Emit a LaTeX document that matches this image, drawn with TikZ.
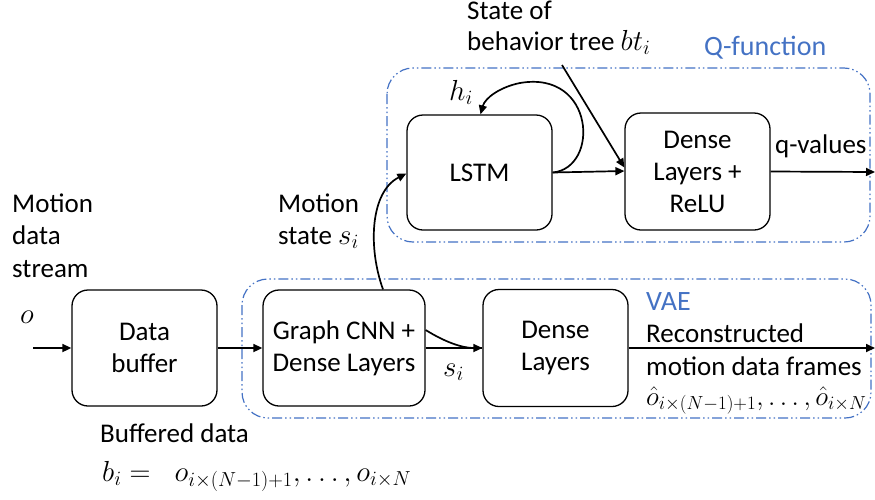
\RequirePackage{fix-cm}
\documentclass[tikz,border=0pt]{standalone}
\usepackage{fontspec}
\setmainfont{Carlito}
\usetikzlibrary{arrows.meta}
\definecolor{groupblue}{RGB}{68,114,196}
\tikzset{
  blk/.style={draw, line width=1.3pt, rounded corners=16pt, align=center, font=\fontsize{27}{32}\selectfont},
  grp/.style={draw=groupblue, line width=1.2pt, rounded corners=26pt,
    dash pattern=on 10pt off 3pt on 1.5pt off 3pt on 1.5pt off 3pt},
  flow/.style={line width=1.7pt, -{Triangle[length=9pt,width=8pt]}},
  lbl/.style={font=\fontsize{27}{33}\selectfont, align=left, inner sep=0pt},
  mth/.style={font=\fontsize{29}{33}\selectfont, inner sep=0pt},
  grplbl/.style={font=\fontsize{28}{30}\selectfont, text=groupblue, inner sep=0pt}
}
\begin{document}
\begin{tikzpicture}[x=1pt, y=-1pt]
\useasboundingbox (0,0) rectangle (875,499);

% group frames
\draw[grp] (387,68) rectangle (870,242);
\draw[grp] (242,279) rectangle (871,418);
\node[grplbl, anchor=base west] (qlab) at (704,55) {Q-function};
\node[grplbl, anchor=base west] (vlab) at (646,310) {VAE};

% blocks
\node[blk, minimum width=145pt, minimum height=116pt] (buf) at (144.5,348) {Data\\buffer};
\node[blk, minimum width=162pt, minimum height=116pt] (gcn) at (344,348) {Graph CNN +\\Dense Layers};
\node[blk, minimum width=145pt, minimum height=117pt] (dec) at (555.5,348) {Dense\\Layers};
\node[blk, minimum width=145pt, minimum height=115pt] (lstm) at (479.5,172.5) {LSTM};
\node[blk, minimum width=145pt, minimum height=117pt] (mlp) at (697.5,171.5) {Dense\\Layers +\\ReLU};

% free ends
\coordinate (in) at (33,348);
\coordinate (qout) at (875,172);
\coordinate (rout) at (875,348);
\coordinate (btsrc) at (562,65);

% texts
\node[lbl, anchor=base west] (mds) at (12,212) {Motion};
\node[lbl, anchor=base west] (mds2) at (12,244) {data};
\node[lbl, anchor=base west] (mds3) at (12,277) {stream};
\node[mth, anchor=base west] (o) at (20,323) {$o$};
\node[lbl, anchor=base west] (ms) at (278,212) {Motion};
\node[lbl, anchor=base west] (ms2) at (278,244) {state \fontsize{29}{33}\selectfont$s_i$};
\node[mth, anchor=base west] (si) at (443,376) {$s_i$};
\node[mth, anchor=base west] (hi) at (449,100) {$h_i$};
\node[lbl, anchor=base west] (bt) at (467,19) {State of};
\node[lbl, anchor=base west] (bt2) at (467,50) {behavior tree \fontsize{29}{33}\selectfont$bt_i$};
\node[lbl, anchor=base west] (qv) at (775,153) {q-values};
\node[lbl, anchor=base west] (rec) at (646,342) {Reconstructed};
\node[lbl, anchor=base west] (rec2) at (646,375) {motion data frames};
\node[mth, anchor=base west] (ohat) at (646,405) {\fontsize{27}{30}\selectfont$\hat{o}_{i\times(N-1)+1},\dots,\hat{o}_{i\times N}$};
\node[lbl, anchor=base west] (bd) at (100,442) {Buffered data};
\node[mth, anchor=base west] (bi) at (102,481) {$b_i=\;\;o_{i\times(N-1)+1},\dots,o_{i\times N}$};

% connectors
\draw[flow] (in) -- (buf.west);
\draw[flow] (buf.east) -- (gcn.west);
\draw[line width=1.7pt] (gcn.east) -- (dec.west);
\draw[flow] ([yshift=18pt]gcn.east) .. controls (445,342) and (462,348) .. (dec.west);
\draw[flow] ([xshift=39pt]gcn.north) .. controls (368,248) and (370,192) .. ([yshift=-1pt]lstm.west);
\draw[flow] (lstm.east) -- ([yshift=0.5pt]mlp.west);
\draw[flow] (lstm.east) .. controls (600,168) and (595,70) .. (520,83)
  .. controls (500,87) and (485,98) .. ([xshift=1pt]lstm.north);
\draw[flow] (btsrc) -- ([yshift=4pt]mlp.west);
\draw[flow] (mlp.east) -- (qout);
\draw[flow] (dec.east) -- (rout);
\end{tikzpicture}
\end{document}
